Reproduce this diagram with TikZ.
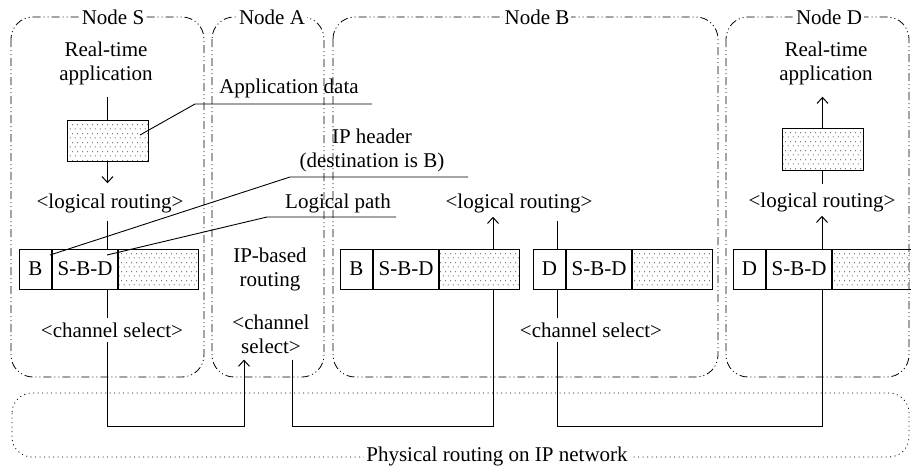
\documentclass[tikz,border=0pt]{standalone}
\usepackage{fontspec}
\setmainfont{Liberation Serif}
\usetikzlibrary{arrows.meta,patterns}
% sparse staggered dot fill for payload cells
\pgfdeclarepatternformonly{sparsedots}{\pgfqpoint{0pt}{0pt}}{\pgfqpoint{5.4pt}{8.6pt}}{\pgfqpoint{5.4pt}{8.6pt}}{%
  \pgfpathcircle{\pgfqpoint{1.35pt}{2.15pt}}{0.55pt}%
  \pgfpathcircle{\pgfqpoint{4.05pt}{6.45pt}}{0.55pt}%
  \pgfusepath{fill}}

\begin{document}
\begin{tikzpicture}[x=1pt,y=-1pt,
  font=\fontsize{21}{24}\selectfont,
  frame/.style={line width=0.8pt, rounded corners=22pt,
    dash pattern=on 8pt off 3pt on 1pt off 3pt on 1pt off 3pt},
  phys/.style={line width=0.8pt, rounded corners=20pt, dash pattern=on 1pt off 3.5pt},
  lab/.style={fill=white, inner sep=2pt},
  txt/.style={align=center, inner sep=2pt},
  cell/.style={draw, line width=1pt, minimum height=40pt, inner sep=0pt, anchor=west},
  datacell/.style={cell, pattern=sparsedots, pattern color=black!90},
  conn/.style={line width=1pt},
  arr/.style={conn, -{Straight Barb[length=6pt,width=11pt]}},
  callout/.style={line width=0.9pt}]

\useasboundingbox (0,0) rectangle (911,467);

% host frames and the network strip
\draw[frame] (11,17) rectangle (204,377);
\draw[frame] (212,17) rectangle (324,377);
\draw[frame] (333,17) rectangle (718,377);
\draw[frame] (726,17) rectangle (909,377);
\draw[phys] (12,393) rectangle (909,457);

\node[lab] (nS) at (113,17) {Node S};
\node[lab] (nA) at (272,17) {Node A};
\node[lab] (nB) at (537,17) {Node B};
\node[lab] (nD) at (829,17) {Node D};
\node[lab] (net) at (497,456) {Physical routing on IP network};

% Node S
\node[txt] (rtS) at (106,63) {Real-time\\application};
\node[datacell, anchor=center, minimum width=81pt, minimum height=41pt] (dS) at (107.5,140.5) {};
\node[txt] (lrS) at (110,203) {<logical routing>};
\node[cell, minimum width=32pt] (sA) at (19,269) {B};
\node[cell, minimum width=65pt] (sB) at (sA.east) {S-B-D};
\node[datacell, minimum width=80pt] (sC) at (sB.east) {};
\node[txt] (csS) at (112,330) {<channel select>};

% Node A
\node[txt] (ipA) at (270,269) {IP-based\\routing};
\node[txt] (csA) at (271,334) {<channel\\select>};

% Node B
\node[txt] (lrB) at (519,203) {<logical routing>};
\node[cell, minimum width=32pt] (bA) at (340,269) {B};
\node[cell, minimum width=65pt] (bB) at (bA.east) {S-B-D};
\node[datacell, minimum width=80pt] (bC) at (bB.east) {};
\node[cell, minimum width=32pt] (eA) at (533,269) {D};
\node[cell, minimum width=65pt] (eB) at (eA.east) {S-B-D};
\node[datacell, minimum width=80pt] (eC) at (eB.east) {};
\node[txt] (csB) at (591,330) {<channel select>};

% Node D
\node[txt] (rtD) at (826,63) {Real-time\\application};
\node[datacell, anchor=center, minimum width=81pt, minimum height=42pt] (dD) at (822.5,149) {};
\node[txt] (lrD) at (822,202) {<logical routing>};
\node[cell, minimum width=32pt] (fA) at (733,269) {D};
\node[cell, minimum width=65pt] (fB) at (fA.east) {S-B-D};
\node[datacell, minimum width=79pt] (fC) at (fB.east) {};

% bus turning points on the network
\coordinate (busA) at (244,426);
\coordinate (busB) at (493,426);
\coordinate (busC) at (557,426);
\coordinate (busD) at (822,426);

% flow through Node S
\draw[conn, shorten <=10pt] (rtS.south -| dS.north) -- (dS.north);
\draw[arr, shorten >=8pt] (dS.south) -- (lrS.north -| dS.south);
\draw[conn, shorten <=6pt] (lrS.south -| dS.south) -- (sB.north -| dS.south);
\draw[conn, shorten >=2pt] (sB.south -| dS.south) -- (csS.north -| dS.south);
\draw[arr, shorten <=2pt, shorten >=4pt] (csS.south -| dS.south) |- (busA) -- (busA |- csA.south);

% Node A to Node B
\draw[conn, shorten <=4pt] ([xshift=21pt]csA.south) |- (busB) -- (busB |- bC.south);
\draw[arr, shorten >=2pt] (bC.north -| busB) -- (lrB.south -| busB);

% Node B to Node D
\draw[conn, shorten <=6pt] (lrB.south -| busC) -- (eA.north -| busC);
\draw[conn, shorten >=2pt] (eA.south -| busC) -- (csB.north -| busC);
\draw[conn, shorten <=2pt] (csB.south -| busC) |- (busD) -- (busD |- fB.south);
\draw[arr, shorten >=2pt] (fB.north -| busD) -- (lrD.south -| busD);
\draw[conn, shorten <=6pt] (lrD.north -| busD) -- (dD.south -| busD);
\draw[arr, shorten >=10pt] (dD.north) -- (rtD.south -| dD.north);

% annotations
\node[txt] (appL) at (289,88) {Application data};
\coordinate (appU1) at (195,104);
\coordinate (appU2) at (372,104);
\coordinate (appTip) at (140,135);
\draw[callout] (appTip) -- (appU1) -- (appU2);

\node[txt] (ipL) at (372,150) {IP header\\(destination is B)};
\coordinate (ipU1) at (290,177);
\coordinate (ipU2) at (468,177);
\coordinate (ipTip) at (50,255);
\draw[callout] (ipTip) -- (ipU1) -- (ipU2);

\node[txt] (lpL) at (338,203) {Logical path};
\coordinate (lpU1) at (267,217);
\coordinate (lpU2) at (396,217);
\coordinate (lpTip) at (107,255);
\draw[callout] (lpTip) -- (lpU1) -- (lpU2);
\end{tikzpicture}
\end{document}
